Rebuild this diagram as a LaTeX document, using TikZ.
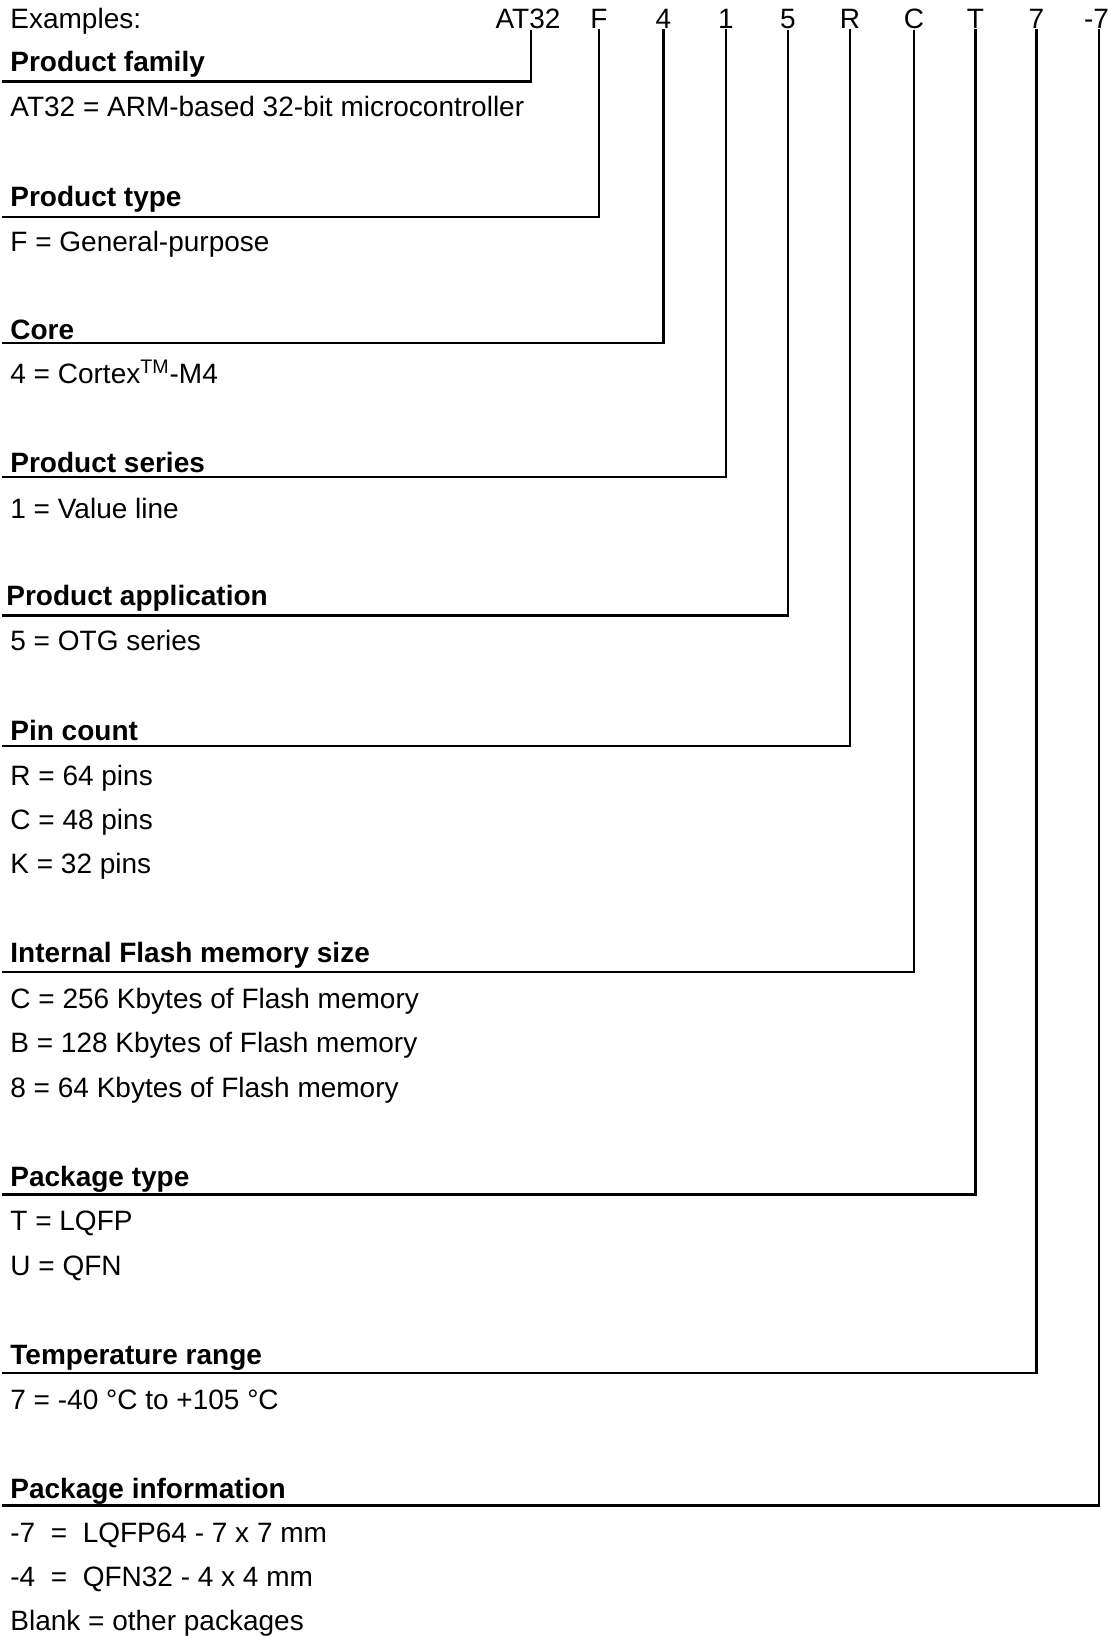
\documentclass[tikz,border=0pt]{standalone}
\usepackage{fontspec}
\setmainfont{Liberation Sans}

\begin{document}
\begin{tikzpicture}[
  x=0.5pt, y=-0.5pt,
  code/.style={font=\fontsize{14}{17}\selectfont, inner sep=0pt, anchor=base},
  heading/.style={font=\fontsize{14}{17}\selectfont\bfseries, inner sep=0pt, anchor=base west},
  item/.style={font=\fontsize{14}{17}\selectfont, inner sep=0pt, anchor=base west},
  wire/.style={line width=1.3pt, line join=miter}
]
  \useasboundingbox (0,0) rectangle (1110,1636);

  % Part number
  \node[item] (ex) at (10,29) {Examples:};
  \foreach \i/\x/\name in {1/528/AT32, 2/599/F, 3/663.5/4, 4/726/1, 5/788/5,
                           6/850/R, 7/914/C, 8/975.5/T, 9/1036.5/7, 10/1096.5/-7} {
    \node[code] (l\i) at (\x,29) {\name};
  }

  % Field headings and their underlines
  \foreach \i/\x/\hy/\y/\name in {1/10/71.5/81.5/Product family, 2/10/207/217/Product type,
      3/10/339.5/343/Core, 4/10/473/477/Product series, 5/6/605.5/615.5/Product application,
      6/10/740/746/Pin count, 7/10/962/972/Internal Flash memory size,
      8/10/1186/1194.5/Package type, 9/10/1364.5/1373/Temperature range,
      10/10/1498/1505.5/Package information} {
    \node[heading] (h\i) at (\x,\hy) {\name};
    \coordinate (e\i) at (2,\y);
  }

  % Leader lines
  \foreach \i in {2,...,9} {
    \draw[wire] (l\i.south) |- (e\i);
  }
  \draw[wire] ([xshift=1.5pt]l1.south) |- (e1);
  \draw[wire] ([xshift=1.2pt]l10.south) |- (e10);

  % Values
  \node[item] (v1) at (10,116.5) {AT32 = ARM-based 32-bit microcontroller};
  \node[item] (v2) at (10,252) {F = General-purpose};
  \node[item] (v3) at (10,384) {4 = Cortex\textsuperscript{TM}-M4};
  \node[item] (v4) at (10,518) {1 = Value line};
  \node[item] (v5) at (10,650.5) {5 = OTG series};
  \node[item] (v6a) at (10,785) {R = 64 pins};
  \node[item] (v6b) at (10,829.5) {C = 48 pins};
  \node[item] (v6c) at (10,873.5) {K = 32 pins};
  \node[item] (v7a) at (10,1008) {C = 256 Kbytes of Flash memory};
  \node[item] (v7b) at (10,1052.5) {B = 128 Kbytes of Flash memory};
  \node[item] (v7c) at (10,1097) {8 = 64 Kbytes of Flash memory};
  \node[item] (v8a) at (10,1230.5) {T = LQFP};
  \node[item] (v8b) at (10,1275) {U = QFN};
  \node[item] (v9) at (10,1409) {7 = -40 °C to +105 °C};
  \node[item] (v10a) at (10,1542.5) {-7\ \ =\ \ LQFP64 - 7 x 7 mm};
  \node[item] (v10b) at (10,1586.5) {-4\ \ =\ \ QFN32 - 4 x 4 mm};
  \node[item] (v10c) at (10,1630) {Blank = other packages};
\end{tikzpicture}
\end{document}
